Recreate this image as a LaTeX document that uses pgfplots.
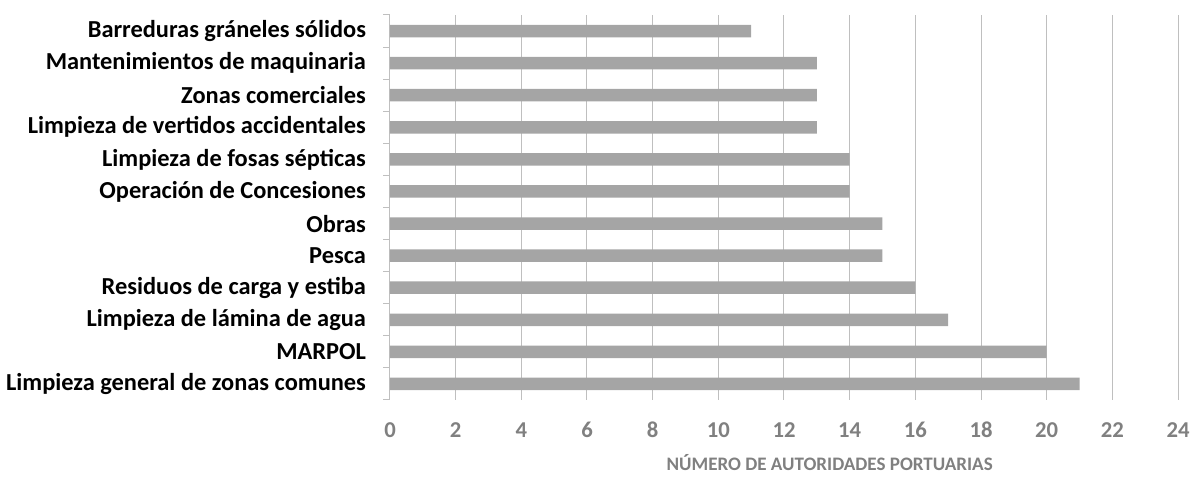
\documentclass[border=0pt]{standalone}
\usepackage{fontspec}
\setmainfont{Carlito}
\usepackage{pgfplots}
\pgfplotsset{compat=1.18}
\definecolor{barc}{HTML}{A5A5A5}
\definecolor{gridc}{HTML}{BFBFBF}
\definecolor{tickc}{HTML}{808080}
\begin{document}
\begin{tikzpicture}
\useasboundingbox (-292.5pt,-57.75pt) rectangle (601.5pt,300pt);
\begin{axis}[
  scale only axis,
  width=591pt, height=288.75pt,
  xbar, bar width=9.4pt,
  xmin=0, xmax=24, ymin=-0.5, ymax=11.5,
  xtick={0,2,...,24},
  ytick={0,...,11},
  yticklabels={Limpieza general de zonas comunes, MARPOL, Limpieza de lámina de agua, Residuos de carga y estiba, Pesca, Obras, Operación de Concesiones, Limpieza de fosas sépticas, Limpieza de vertidos accidentales, Zonas comerciales, Mantenimientos de maquinaria, Barreduras gráneles sólidos},
  minor ytick={-0.5,0.5,...,11.5},
  major tick length=0pt,
  minor tick length=5pt,
  tick align=outside,
  minor tick style={gridc, line width=0.75pt},
  axis lines*=left,
  x axis line style={draw=none},
  y axis line style={draw=gridc, line width=0.75pt},
  xmajorgrids,
  major grid style={gridc, line width=0.75pt},
  yticklabel style={font=\fontsize{18.3}{21}\selectfont\bfseries, text=black, xshift=-14.5pt},
  xticklabel style={font=\fontsize{17}{20}\selectfont\bfseries, text=tickc, anchor=base, yshift=-28.5pt},
  /pgf/number format/assume math mode=true,
  xlabel={NÚMERO DE AUTORIDADES PORTUARIAS},
  xlabel style={font=\fontsize{14.3}{17}\selectfont\bfseries, text=tickc, at={(axis description cs:0.558,0)}, anchor=center, yshift=-47pt},
]
\addplot[fill=barc, draw=none] coordinates {
(21,0) (20,1) (17,2) (16,3) (15,4) (15,5) (14,6) (14,7) (13,8) (13,9) (13,10) (11,11)};
\end{axis}
\end{tikzpicture}
\end{document}
